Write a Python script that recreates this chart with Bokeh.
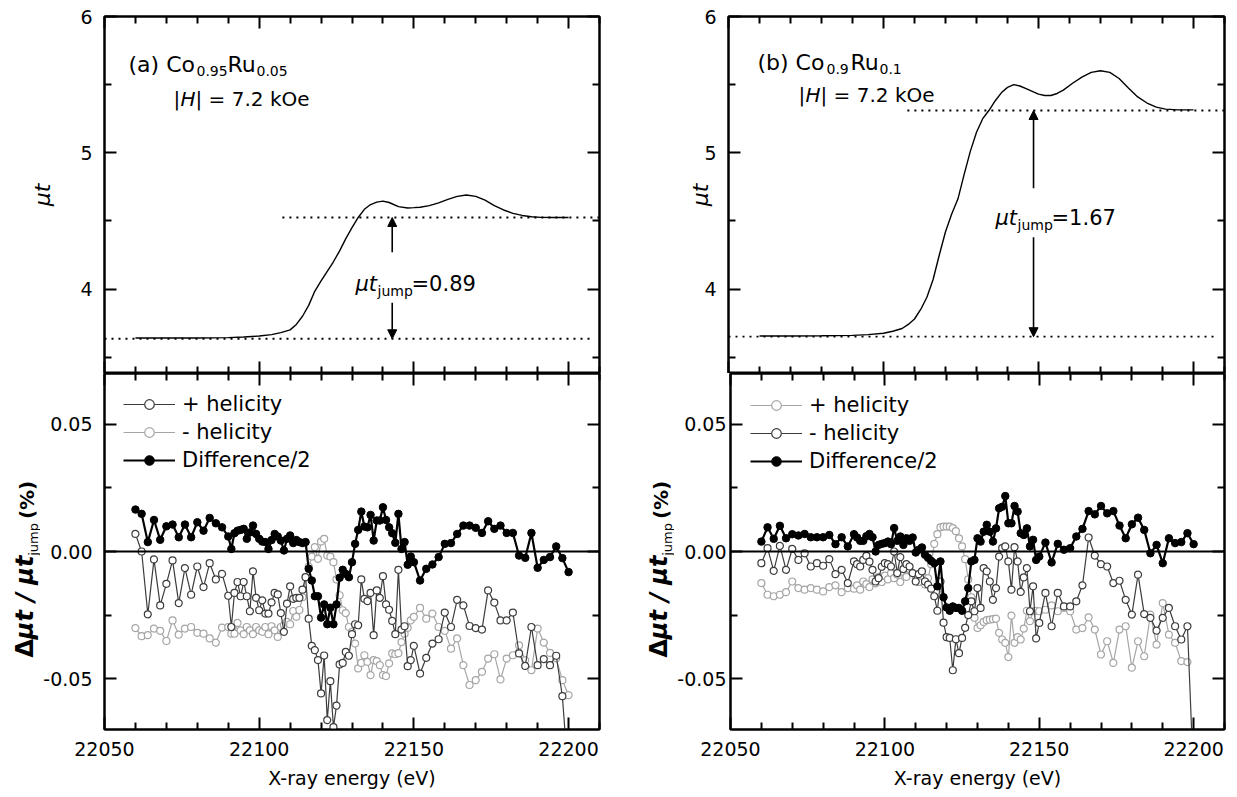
import math
from bokeh.plotting import figure
from bokeh.models import (Range1d, LinearAxis, FixedTicker, NumeralTickFormatter, Label,
                          Arrow, NormalHead, Legend, LegendItem, Span, ColumnDataSource)
from bokeh.layouts import row, column
from bokeh.embed import file_html
from bokeh.resources import INLINE

FONT = "DejaVu Sans"
NAN = float("nan")

# ---------------- data ----------------
# energy grid of the XMCD scans (eV)
energy = [22060, 22062, 22064, 22066, 22068, 22070, 22072, 22074, 22076, 22078,
          22080, 22082, 22084, 22086, 22088, 22090,
          22091, 22092, 22093, 22094, 22095, 22096, 22097, 22098, 22099, 22100,
          22101, 22102, 22103, 22104, 22105, 22106, 22107, 22108, 22109, 22110,
          22111, 22112, 22113, 22114, 22115, 22116, 22117, 22118, 22119, 22120,
          22121, 22122, 22123, 22124, 22125, 22126, 22127, 22128, 22129, 22130,
          22131, 22132, 22133, 22134, 22135, 22136, 22137, 22138, 22139, 22140,
          22141, 22142, 22143, 22144, 22145, 22146, 22147, 22148, 22149,
          22150, 22152, 22154, 22156, 22158, 22160, 22162, 22164, 22166, 22168,
          22170, 22172, 22174, 22176, 22178, 22180, 22182, 22184, 22186, 22188,
          22190, 22192, 22194, 22196, 22198, 22200]

# (a) Co0.95Ru0.05
plus_a = [0.0069, 0.0000, -0.0247, -0.0031, -0.0212, -0.0127, -0.0035, -0.0203, -0.0065, -0.0170,
          -0.0059, -0.0140, -0.0046, -0.0110, -0.0088, -0.0174,
          -0.0297, -0.0163, -0.0120, -0.0176, -0.0120, -0.0176, -0.0235, -0.0078, -0.0182, -0.0231,
          -0.0192, -0.0244, -0.0244, -0.0200, -0.0163, -0.0169, -0.0242, -0.0316, -0.0205, -0.0137,
          -0.0186, -0.0182, -0.0182, -0.0150, -0.0101, -0.0264, -0.0371, -0.0388, -0.0427, -0.0558,
          -0.0409, -0.0663, -0.0510, -0.0691, -0.0606, -0.0444, -0.0438, -0.0395, -0.0410, -0.0325,
          -0.0286, -0.0290, -0.0110, -0.0186, -0.0195, -0.0163, -0.0329, -0.0153, -0.0182, -0.0097,
          -0.0208, -0.0229, -0.0273, -0.0325, -0.0072, -0.0307, -0.0294, -0.0451, -0.0427,
          -0.0371, -0.0480, -0.0418, -0.0362, -0.0345, -0.0240, -0.0297, -0.0190, -0.0212, -0.0293,
          -0.0301, -0.0307, -0.0153, -0.0201, -0.0271, -0.0271, -0.0240, -0.0401, -0.0450, -0.0297,
          -0.0447, -0.0423, -0.0447, -0.0410, -0.0569, -0.0900]
minus_a = [-0.0301, -0.0333, -0.0329, -0.0303, -0.0312, -0.0352, -0.0271, -0.0327, -0.0303, -0.0297,
           -0.0320, -0.0323, -0.0342, -0.0358, -0.0299, -0.0297,
           -0.0323, -0.0323, -0.0281, -0.0310, -0.0325, -0.0297, -0.0310, -0.0325, -0.0297, -0.0310,
           -0.0316, -0.0297, -0.0325, -0.0294, -0.0310, -0.0336, -0.0297, -0.0290, -0.0277, -0.0286,
           -0.0234, -0.0257, -0.0230, -0.0180, -0.0101, -0.0060, -0.0020, 0.0017, -0.0029, 0.0039,
           0.0050, -0.0016, -0.0020, -0.0042, -0.0110, -0.0172, -0.0231, -0.0242, -0.0297, -0.0316,
           -0.0362, -0.0460, -0.0438, -0.0408, -0.0434, -0.0486, -0.0427, -0.0431, -0.0447, -0.0486,
           -0.0490, -0.0440, -0.0401, -0.0404, -0.0400, -0.0356, -0.0323, -0.0300, -0.0271,
           -0.0257, -0.0222, -0.0264, -0.0244, -0.0297, -0.0312, -0.0382, -0.0342, -0.0447, -0.0525,
           -0.0506, -0.0473, -0.0421, -0.0404, -0.0503, -0.0421, -0.0408, -0.0369, -0.0427, -0.0467,
           -0.0303, -0.0358, -0.0399, -0.0420, -0.0506, -0.0565]
diff_a = [0.0165, 0.0148, 0.0037, 0.0124, 0.0046, 0.0099, 0.0106, 0.0056, 0.0106, 0.0056,
          0.0115, 0.0082, 0.0132, 0.0111, 0.0095, 0.0059,
          0.0010, 0.0072, 0.0082, 0.0085, 0.0089, 0.0050, 0.0075, 0.0102, 0.0069, 0.0050,
          0.0039, 0.0037, 0.0010, 0.0045, 0.0069, 0.0059, 0.0043, 0.0004, 0.0050, 0.0063,
          0.0033, 0.0045, 0.0037, 0.0033, 0.0037, -0.0068, -0.0114, -0.0176, -0.0176, -0.0260,
          -0.0208, -0.0286, -0.0221, -0.0286, -0.0208, -0.0103, -0.0072, -0.0088, -0.0101, -0.0042,
          0.0030, 0.0085, 0.0157, 0.0098, 0.0095, 0.0144, 0.0043, 0.0122, 0.0122, 0.0174,
          0.0124, 0.0095, 0.0072, 0.0034, 0.0148, 0.0010, 0.0037, -0.0052, -0.0020,
          -0.0042, -0.0114, -0.0068, -0.0051, -0.0022, 0.0030, 0.0033, 0.0069, 0.0102, 0.0102,
          0.0093, 0.0073, 0.0119, 0.0089, 0.0102, 0.0073, 0.0073, -0.0016, -0.0025, 0.0073,
          -0.0064, -0.0033, -0.0022, 0.0020, -0.0026, -0.0081]

# (b) Co0.9Ru0.1
plus_b = [-0.0124, -0.0170, -0.0176, -0.0170, -0.0160, -0.0118, -0.0144, -0.0150, -0.0144, -0.0150,
          -0.0157, -0.0140, -0.0133, -0.0160, -0.0144, -0.0146,
          -0.0133, -0.0150, -0.0118, -0.0128, -0.0140, -0.0110, -0.0125, -0.0100, -0.0120, -0.0095,
          -0.0110, -0.0085, -0.0105, -0.0090, -0.0120, -0.0080, -0.0100, -0.0070, -0.0085, -0.0100,
          -0.0120, -0.0095, -0.0130, -0.0105, -0.0050, 0.0030, 0.0068, 0.0095, 0.0098, 0.0098,
          0.0098, 0.0092, 0.0080, 0.0052, 0.0020, -0.0030, -0.0110, -0.0180, -0.0261, -0.0301,
          -0.0290, -0.0277, -0.0270, -0.0268, -0.0266, -0.0264, -0.0320, -0.0346, -0.0359, -0.0415,
          -0.0252, -0.0359, -0.0337, -0.0346, -0.0303, -0.0233, -0.0274, -0.0235, -0.0233,
          -0.0235, -0.0229, -0.0212, -0.0235, -0.0222, -0.0235, -0.0307, -0.0301, -0.0259, -0.0307,
          -0.0405, -0.0353, -0.0438, -0.0307, -0.0294, -0.0457, -0.0353, -0.0412, -0.0248, -0.0366,
          -0.0203, -0.0327, -0.0359, -0.0431, -0.0435, NAN]
minus_b = [-0.0046, 0.0013, -0.0076, 0.0022, -0.0072, 0.0010, -0.0033, -0.0007, -0.0059, -0.0046,
           -0.0056, -0.0030, -0.0089, -0.0072, -0.0124, -0.0039,
           -0.0050, -0.0059, -0.0033, -0.0017, -0.0040, -0.0072, -0.0118, -0.0105, -0.0060, -0.0046,
           -0.0050, -0.0059, 0.0000, -0.0085, -0.0022, -0.0069, -0.0050, -0.0059, -0.0085, -0.0118,
           -0.0089, -0.0078, -0.0118, -0.0130, -0.0146, -0.0176, -0.0233, -0.0118, -0.0280, -0.0337,
           -0.0340, -0.0467, -0.0345, -0.0400, -0.0340, -0.0300, -0.0250, -0.0196, -0.0235, -0.0144,
           -0.0222, -0.0065, -0.0078, -0.0118, -0.0190, -0.0144, -0.0020, 0.0013, 0.0020, -0.0039,
           -0.0150, 0.0017, -0.0039, -0.0159, -0.0102, -0.0065, -0.0235, -0.0137, -0.0342,
           -0.0281, -0.0163, -0.0294, -0.0163, -0.0216, -0.0216, -0.0196, -0.0133, 0.0055, -0.0016,
           -0.0050, -0.0059, -0.0124, -0.0115, -0.0190, -0.0248, -0.0091, -0.0246, -0.0261, -0.0311,
           -0.0261, -0.0222, -0.0294, -0.0346, -0.0294, -0.0900]
diff_b = [0.0039, 0.0095, 0.0050, 0.0101, 0.0052, 0.0068, 0.0063, 0.0069, 0.0056, 0.0056,
          0.0056, 0.0065, 0.0029, 0.0056, 0.0020, 0.0068,
          0.0055, 0.0042, 0.0042, 0.0060, 0.0069, 0.0056, 0.0000, 0.0026, 0.0030, 0.0033,
          0.0039, 0.0029, 0.0092, 0.0042, 0.0059, 0.0026, 0.0052, 0.0042, 0.0055, -0.0004,
          0.0007, 0.0016, -0.0013, -0.0025, -0.0037, -0.0046, -0.0137, -0.0039, -0.0180, -0.0220,
          -0.0233, -0.0216, -0.0222, -0.0222, -0.0233, -0.0196, -0.0144, -0.0039, -0.0033, 0.0052,
          0.0039, 0.0078, 0.0105, 0.0078, 0.0039, 0.0091, 0.0170, 0.0176, 0.0218, 0.0111,
          0.0111, 0.0179, 0.0157, 0.0072, 0.0065, 0.0091, 0.0020, 0.0046, -0.0033,
          -0.0020, 0.0035, -0.0043, 0.0030, 0.0007, 0.0013, 0.0059, 0.0089, 0.0159, 0.0146,
          0.0179, 0.0150, 0.0159, 0.0102, 0.0052, 0.0107, 0.0133, 0.0085, -0.0007, 0.0026,
          -0.0046, 0.0052, 0.0033, 0.0037, 0.0072, 0.0029]

# absorption (mu t) curves
mu_energy_a = [22060, 22070, 22080, 22090, 22095, 22100, 22104, 22107, 22110, 22112,
               22114, 22116, 22118, 22120, 22122, 22124, 22126, 22128, 22130, 22132,
               22134, 22136, 22138, 22140, 22142, 22145, 22148, 22150, 22152, 22155,
               22158, 22161, 22164, 22167, 22170, 22173, 22176, 22179, 22182, 22185,
               22188, 22191, 22195, 22200]
mu_a = [3.640, 3.640, 3.641, 3.643, 3.648, 3.655, 3.665, 3.680, 3.700, 3.740,
        3.800, 3.880, 3.985, 4.060, 4.130, 4.200, 4.280, 4.370, 4.450, 4.525,
        4.585, 4.620, 4.638, 4.645, 4.635, 4.605, 4.595, 4.597, 4.600, 4.612,
        4.632, 4.658, 4.680, 4.690, 4.680, 4.652, 4.612, 4.580, 4.555, 4.540,
        4.530, 4.526, 4.525, 4.525]
mu_energy_b = [22060, 22070, 22080, 22090, 22095, 22100, 22103, 22106, 22108, 22110,
               22112, 22114, 22116, 22118, 22120, 22122, 22124, 22126, 22128, 22130,
               22132, 22134, 22136, 22138, 22140, 22142, 22144, 22146, 22148, 22150,
               22152, 22154, 22156, 22158, 22161, 22164, 22167, 22170, 22173, 22176,
               22179, 22182, 22185, 22188, 22191, 22195, 22200]
mu_b = [3.655, 3.655, 3.657, 3.660, 3.665, 3.675, 3.690, 3.710, 3.740, 3.780,
        3.850, 3.940, 4.070, 4.250, 4.420, 4.550, 4.660, 4.840, 5.010, 5.150,
        5.250, 5.310, 5.380, 5.440, 5.480, 5.500, 5.490, 5.470, 5.450, 5.430,
        5.420, 5.420, 5.435, 5.460, 5.510, 5.555, 5.590, 5.602, 5.590, 5.545,
        5.475, 5.410, 5.365, 5.335, 5.320, 5.315, 5.315]

# edge-jump levels and arrows
pre_edge = {"a": 3.635, "b": 3.650}
post_edge = {"a": 4.525, "b": 5.310}
pre_line_end = {"a": 22208, "b": 22207.7}
post_line_start = {"a": 22107.5, "b": 22107.7}
arrow_x = {"a": 22143.0, "b": 22148.4}
arrow_upper_tail = {"a": 4.27, "b": 4.74}
arrow_lower_tail = {"a": 3.90, "b": 4.38}
jump_value = {"a": "=0.89", "b": "=1.67"}

x_ticks = [22050, 22100, 22150, 22200]
x_minor = [22060, 22070, 22080, 22090, 22110, 22120, 22130, 22140, 22160, 22170, 22180, 22190, 22210]
top_ticks = [4, 5, 6]
top_minor = [3.5, 4.5, 5.5]
bot_ticks = [-0.05, 0.0, 0.05]
bot_minor = [-0.025, 0.025]

X_RANGE = (22050, 22210)
TOP_RANGE = (3.38, 6.0)
BOT_RANGE = (-0.07, 0.07)

DARK = "#3c3c3c"
LIGHT = "#a6a6a6"

# ---------------- geometry (page pixels of each frame) ----------------
COLS = {"a": (104, 599), "b": (728, 1224)}
ROWS = {"top": (16, 373), "bot": (373, 729)}
BOTTOM_BORDER = 68
# page x where each bottom-row y-label strip starts, and its width
STRIP = {"a": (0, 40), "b": (640, 34)}
BORDERS = {("a", "top"): (104, 41), ("b", "top"): (88, 13),
           ("a", "bot"): (64, 41), ("b", "bot"): (54, 13)}
YLAB_STANDOFF = {("a", "top"): 12, ("b", "top"): 12, ("a", "bot"): 12, ("b", "bot"): 4}


def to_data(col, rk, px, py):
    x0, x1 = COLS[col]
    y0, y1 = ROWS[rk]
    yr = TOP_RANGE if rk == "top" else BOT_RANGE
    x = X_RANGE[0] + (px - x0) / (x1 - x0) * (X_RANGE[1] - X_RANGE[0])
    y = yr[1] - (py - y0) / (y1 - y0) * (yr[1] - yr[0])
    return x, y


def style_axis(ax, labels, fmt=None, standoff=12):
    ax.axis_line_width = 2
    ax.axis_line_color = "black"
    ax.major_tick_in = 12
    ax.major_tick_out = 0
    ax.minor_tick_in = 7
    ax.minor_tick_out = 0
    ax.major_tick_line_width = 2
    ax.minor_tick_line_width = 2
    ax.major_tick_line_color = "black"
    ax.minor_tick_line_color = "black"
    if labels:
        ax.major_label_text_font = FONT
        ax.major_label_text_font_size = "19px"
        ax.major_label_text_color = "black"
        ax.major_label_standoff = standoff
        if fmt is not None:
            ax.formatter = fmt
    else:
        ax.major_label_text_font_size = "1px"
        ax.major_label_text_color = None
        ax.major_label_standoff = 0


def make_fig(col, rk):
    x0, x1 = COLS[col]
    y0, y1 = ROWS[rk]
    left, right = BORDERS[(col, rk)]
    if rk == "top":
        top, bottom, yr = 16, 0, TOP_RANGE
        yt, ym, yfmt = top_ticks, top_minor, NumeralTickFormatter(format="0")
    else:
        top, bottom, yr = 0, BOTTOM_BORDER, BOT_RANGE
        yt, ym, yfmt = bot_ticks, bot_minor, NumeralTickFormatter(format="0.00")
    p = figure(width=left + (x1 - x0) + right, height=top + (y1 - y0) + bottom,
               x_range=Range1d(*X_RANGE), y_range=Range1d(*yr),
               output_backend="svg", toolbar_location=None,
               x_axis_location=None, y_axis_location=None,
               min_border_left=left, min_border_right=right,
               min_border_top=top, min_border_bottom=bottom,
               background_fill_color="white", border_fill_color="white",
               outline_line_color="black", outline_line_width=2)
    p.xgrid.visible = False
    p.ygrid.visible = False
    ax = LinearAxis(ticker=FixedTicker(ticks=yt, minor_ticks=ym))
    style_axis(ax, True, yfmt, YLAB_STANDOFF[(col, rk)])
    p.add_layout(ax, "left")
    yaxis = ax
    ax = LinearAxis(ticker=FixedTicker(ticks=yt, minor_ticks=ym))
    style_axis(ax, False)
    p.add_layout(ax, "right")
    ax = LinearAxis(ticker=FixedTicker(ticks=x_ticks, minor_ticks=x_minor))
    style_axis(ax, False)
    p.add_layout(ax, "above")
    ax = LinearAxis(ticker=FixedTicker(ticks=x_ticks, minor_ticks=x_minor))
    if rk == "bot":
        style_axis(ax, True, NumeralTickFormatter(format="0"), 12)
        ax.axis_label = "X-ray energy (eV)"
        ax.axis_label_text_font = FONT
        ax.axis_label_text_font_size = "19px"
        ax.axis_label_text_font_style = "normal"
        ax.axis_label_text_color = "black"
        ax.axis_label_standoff = 8
    else:
        style_axis(ax, False)
    p.add_layout(ax, "below")
    return p, yaxis


def text(p, col, rk, px, py, s, size, style="normal", angle=0.0, align="left", baseline="alphabetic"):
    x, y = to_data(col, rk, px, py)
    p.add_layout(Label(x=x, y=y, x_units="data", y_units="data", text=s,
                       text_font=FONT, text_font_size=f"{size}px", text_font_style=style,
                       text_color="black", angle=angle, text_align=align,
                       text_baseline=baseline))


def top_panel(col, mu_e, mu_v, title_parts, h_x, h_y, jump_pos, ylab_standoff):
    p, yaxis = make_fig(col, "top")
    yaxis.axis_label = "\u03bct"
    yaxis.axis_label_text_font = FONT
    yaxis.axis_label_text_font_size = "22px"
    yaxis.axis_label_text_font_style = "italic"
    yaxis.axis_label_text_color = "black"
    yaxis.axis_label_standoff = ylab_standoff
    p.line(mu_e, mu_v, line_color="black", line_width=1.4)
    p.segment(x0=[X_RANGE[0], post_line_start[col]], y0=[pre_edge[col], post_edge[col]],
              x1=[pre_line_end[col], X_RANGE[1]], y1=[pre_edge[col], post_edge[col]],
              line_color="black", line_width=1.8, line_dash="2 5")
    head = dict(size=9, fill_color="black", line_color="black", line_width=1)
    p.add_layout(Arrow(end=NormalHead(**head), x_start=arrow_x[col], y_start=arrow_upper_tail[col],
                       x_end=arrow_x[col], y_end=post_edge[col], line_width=1.6, line_color="black"))
    p.add_layout(Arrow(end=NormalHead(**head), x_start=arrow_x[col], y_start=arrow_lower_tail[col],
                       x_end=arrow_x[col], y_end=pre_edge[col], line_width=1.6, line_color="black"))
    for (px, py, s, size) in title_parts:
        text(p, col, "top", px, py, s, size)
    text(p, col, "top", h_x, h_y, "|", 20)
    text(p, col, "top", h_x + 7, h_y, "H", 20, style="italic")
    text(p, col, "top", h_x + 22, h_y, "| = 7.2 kOe", 20)
    jx, jy = jump_pos
    text(p, col, "top", jx, jy, "\u03bct", 21, style="italic")
    text(p, col, "top", jx + 22, jy + 7, "jump", 14)
    text(p, col, "top", jx + 56, jy, jump_value[col], 21)
    return p


def bottom_panel(col, series, legend_labels, leg_margin):
    p, _ = make_fig(col, "bot")
    src = ColumnDataSource(dict(e=energy, **{k: v for k, (v, _) in series.items()}))
    rends = {}
    for key in ["light", "dark"]:
        vals, color = series[key]
        l = p.line("e", key, source=src, line_color=color, line_width=1.2)
        s = p.scatter("e", key, source=src, marker="circle", size=7, fill_color="white",
                      line_color=color, line_width=1.2)
        rends[key] = [l, s]
    p.add_layout(Span(location=0, dimension="width", line_color="black", line_width=1.8))
    l = p.line("e", "diff", source=src, line_color="black", line_width=2.2)
    s = p.scatter("e", "diff", source=src, marker="circle", size=7.5, fill_color="black",
                  line_color="black", line_width=1)
    rends["diff"] = [l, s]
    items = [LegendItem(label=lab, renderers=rends[key]) for key, lab in legend_labels]
    leg = Legend(items=items, location="top_left", margin=leg_margin, padding=0, spacing=4,
                 label_text_font=FONT, label_text_font_size="21px", label_text_color="black",
                 glyph_width=52, glyph_height=24, label_height=24, label_standoff=7,
                 border_line_color=None, background_fill_alpha=0)
    p.add_layout(leg)
    return p


def ylabel_strip(col, base_px):
    """Narrow figure carrying the rotated label  Δμt / μt_jump (%).
    Its frame spans page y 373..729 (same as the panel beside it)."""
    sx0, w = STRIP[col]
    y0, y1 = ROWS["bot"]
    p = figure(width=w, height=(y1 - y0) + BOTTOM_BORDER,
               x_range=Range1d(0, w), y_range=Range1d(0, y1 - y0),
               output_backend="svg", toolbar_location=None,
               x_axis_location=None, y_axis_location=None,
               min_border_left=0, min_border_right=0, min_border_top=0,
               min_border_bottom=BOTTOM_BORDER,
               background_fill_color="white", border_fill_color="white",
               outline_line_color=None)
    p.xgrid.visible = False
    p.ygrid.visible = False
    rot = math.pi / 2
    page_y = 657.0
    # text, size, style, baseline x-shift, advance along the text
    parts = [("\u0394", 24, "bold", 0, 18.6),
             ("\u03bct / \u03bct", 24, "bold italic", 0, 83.0),
             ("jump", 13, "normal", 5, 33.0),
             ("(%)", 20, "bold", 0, 40.0)]
    for s, size, style, dx, adv in parts:
        if s == "(%)":
            page_y -= 6
            adv -= 6
        cy = page_y - adv / 2.0
        cx = base_px + dx - 0.30 * size - sx0
        p.add_layout(Label(x=cx, y=y1 - cy, text=s, text_font=FONT,
                           text_font_size=f"{size}px", text_font_style=style,
                           text_color="black", angle=rot, text_align="center",
                           text_baseline="middle"))
        page_y -= adv
    return p


pa_top = top_panel("a", mu_energy_a, mu_a,
                   [(128, 64, "(a) Co", 22), (196, 70, "0.95", 14), (227, 64, "Ru", 22), (256, 70, "0.05", 14)],
                   173, 98, (355, 283), 22)
pb_top = top_panel("b", mu_energy_b, mu_b,
                   [(757, 62, "(b) Co", 22), (826, 68, "0.9", 14), (850, 62, "Ru", 22), (879, 68, "0.1", 14)],
                   798, 94, (995, 217), -12)

pa_bot = bottom_panel("a",
                      {"dark": (plus_a, DARK), "light": (minus_a, LIGHT), "diff": (diff_a, "black")},
                      [("dark", "+ helicity"), ("light", "- helicity"), ("diff", "Difference/2")], 19)
pb_bot = bottom_panel("b",
                      {"light": (plus_b, LIGHT), "dark": (minus_b, DARK), "diff": (diff_b, "black")},
                      [("light", "+ helicity"), ("dark", "- helicity"), ("diff", "Difference/2")], 20)

strip_a = ylabel_strip("a", 32)
strip_b = ylabel_strip("b", 666)

layout = column(row(pa_top, pb_top), row(strip_a, pa_bot, strip_b, pb_bot))
open("out.html", "w").write(file_html(layout, INLINE))
